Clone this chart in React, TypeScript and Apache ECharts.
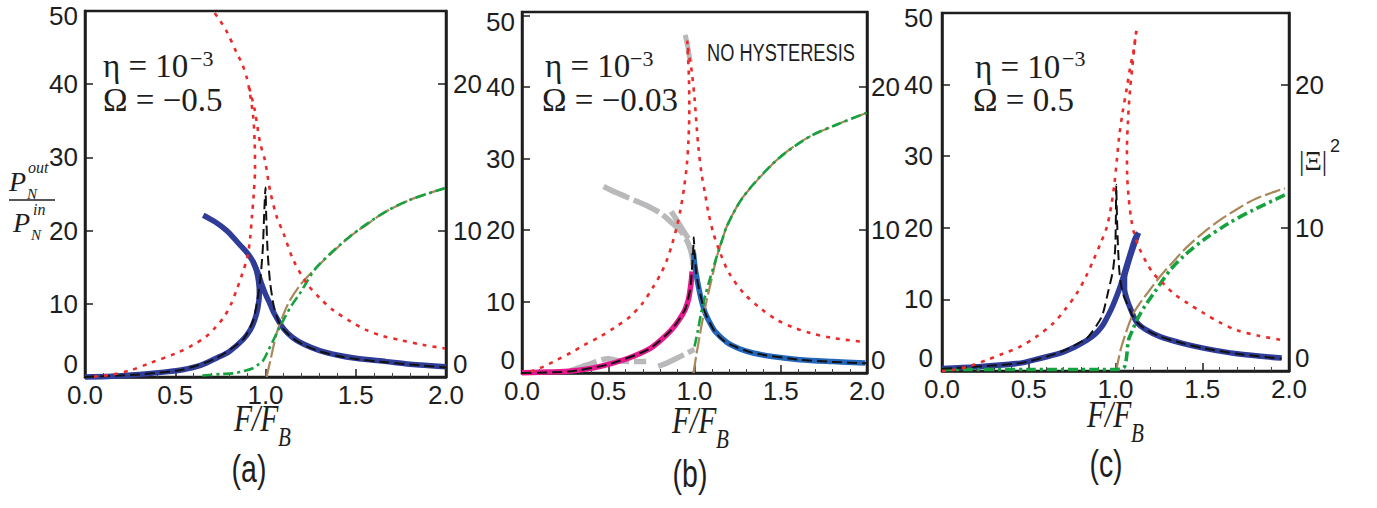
import React, { useEffect, useRef } from "react";
import * as echarts from "echarts";

type Pts = [number, number][];

// ---------- tick labels ----------
const xTickLabels = ["0.0", "0.5", "1.0", "1.5", "2.0"];
const leftTickValues = [0, 10, 20, 30, 40, 50];
const rightTickValues = [0, 10, 20];

// ---------- panel (a)  Omega = -0.5 ----------
const aBlueLower: Pts = [[0,0],[0.15,0.1],[0.3,0.35],[0.45,0.7],[0.54,1.0],[0.64,1.6],[0.73,2.6],[0.8,3.5],[0.875,5.1],[0.915,6.4],[0.94,7.8],[0.958,9.5],[0.966,11.4],[0.962,13.0],[0.95,14.5],[0.93,15.8],[0.9,16.9],[0.86,18.0],[0.82,19.1],[0.785,20.0],[0.72,21.2],[0.655,22.1]];
const aBlueUpper: Pts = [[0.93,15.8],[0.955,14.4],[0.98,12.6],[1.0,11.3],[1.025,10.0],[1.05,8.6],[1.1,6.6],[1.15,5.4],[1.21,4.5],[1.3,3.6],[1.395,3.0],[1.5,2.55],[1.67,2.1],[1.8,1.75],[2.0,1.4]];
const aBlack: Pts = [[0,0],[0.3,0.35],[0.54,1.0],[0.73,2.6],[0.875,5.1],[0.93,7.6],[0.955,10.5],[0.972,13.5],[0.985,17.5],[0.993,22.5],[1.0,25.9],[1.004,22],[1.012,17],[1.025,13],[1.045,9.8],[1.07,7.7],[1.1,6.5],[1.15,5.3],[1.21,4.4],[1.3,3.5],[1.395,2.9],[1.5,2.45],[1.67,2.0],[1.8,1.7],[2.0,1.3]];
const aRedLeft: Pts = [[0.05,0.05],[0.14,0.3],[0.25,0.9],[0.36,1.9],[0.51,3.3],[0.6,4.4],[0.67,5.5],[0.72,6.7],[0.77,8.2],[0.81,10],[0.84,11.9],[0.87,14],[0.9,16.4],[0.915,19],[0.925,22],[0.935,25],[0.942,28.5],[0.94,32],[0.932,35.5],[0.912,39],[0.895,41],[0.87,42.8],[0.84,44.3],[0.785,47.2],[0.745,48.8],[0.71,50]];
const aRedRight: Pts = [[0.91,39.5],[0.94,36.5],[0.97,32],[0.997,29.6],[1.025,25.5],[1.062,21.9],[1.1,19.6],[1.154,16],[1.228,12.8],[1.3,10.8],[1.376,9.1],[1.47,7.6],[1.56,6.4],[1.65,5.6],[1.745,5.05],[1.87,4.4],[1.994,3.9]];
const aGreen: Pts = [[0.65,0.1],[0.75,0.2],[0.82,0.25],[0.88,0.4],[0.93,0.6],[0.96,0.85],[0.988,1.15],[1.015,1.8],[1.043,2.5],[1.07,3.2],[1.1,3.9],[1.14,4.8],[1.19,5.7],[1.284,7.5],[1.468,9.6],[1.653,11.2],[1.8,12.1],[1.994,12.9]];
const aBrown: Pts = [[1.006,0],[1.03,1.3],[1.062,3],[1.1,4.3],[1.136,5.25],[1.2,6.4],[1.284,7.5],[1.37,8.5],[1.468,9.6],[1.56,10.4],[1.653,11.2],[1.8,12.1],[1.994,12.9]];

// ---------- panel (b)  Omega = -0.03 ----------
const bMagenta: Pts = [[0,0.05],[0.1,0.1],[0.27,0.25],[0.4,0.65],[0.5,1.2],[0.62,2.1],[0.733,3.3],[0.8,4.5],[0.869,6.1],[0.91,7.4],[0.946,8.9],[0.965,10.3],[0.975,11.7],[0.982,13],[0.986,14.2]];
const bBlue: Pts = [[0.994,16.8],[1.005,14.5],[1.023,12.1],[1.04,10.2],[1.062,8.4],[1.09,7.0],[1.12,5.8],[1.187,4.3],[1.26,3.4],[1.34,2.8],[1.45,2.3],[1.61,1.86],[1.8,1.6],[1.99,1.4]];
const bBlack: Pts = [[0,0],[0.27,0.2],[0.5,1.2],[0.733,3.3],[0.869,6.1],[0.946,8.9],[0.975,11.7],[0.985,14.5],[0.992,17],[0.996,19],[1.0,17],[1.01,14],[1.023,12.1],[1.062,8.4],[1.12,5.7],[1.187,4.2],[1.34,2.8],[1.61,1.86],[1.8,1.55],[2.0,1.35]];
const bGreyUpper: Pts = [[0.473,26.1],[0.55,25.2],[0.647,24.2],[0.733,23.3],[0.8,22.4],[0.869,21],[0.917,19.9],[0.95,18.8],[0.975,17.4],[0.988,16],[0.994,14.3]];
const bGreyUpper2: Pts = [[0.865,22.6],[0.9,21.3],[0.935,19.9],[0.965,18.8]];
const bGreyTop: Pts = [[0.946,47.3],[0.962,45.5],[0.975,43.5]];
const bGreyLow1: Pts = [[0.28,0.3],[0.35,0.9],[0.42,1.5],[0.5,2.0],[0.55,1.75],[0.63,1.6],[0.72,1.6]];
const bGreyLow2: Pts = [[0.79,0.93],[0.84,1.4],[0.9,2.1],[0.95,2.7],[1.0,3.3]];
const bRedLeft: Pts = [[0.05,0.2],[0.125,0.9],[0.2,1.8],[0.28,2.8],[0.36,3.9],[0.453,5.1],[0.54,6.4],[0.627,7.9],[0.7,9.8],[0.762,12.1],[0.805,13.9],[0.84,15.8],[0.87,18],[0.898,20.5],[0.92,23],[0.94,26],[0.955,29],[0.965,32.5],[0.97,37],[0.968,41],[0.962,44.5],[0.958,46.5]];
const bRedRight: Pts = [[0.962,45.5],[0.975,43.5],[0.985,42],[1.0,38.5],[1.014,34],[1.023,31.5],[1.04,28],[1.062,25],[1.08,22.5],[1.11,19.5],[1.149,16.8],[1.2,14],[1.284,11.2],[1.38,9.1],[1.477,7.45],[1.57,6.4],[1.67,5.6],[1.8,4.9],[1.96,4.4]];
const bBrown: Pts = [[0.994,0],[1.01,1.2],[1.033,2.8],[1.05,3.9],[1.072,5.15],[1.1,6.6],[1.13,8.15],[1.16,9.3],[1.187,10.25],[1.23,11.3],[1.284,12.35],[1.38,13.7],[1.477,14.9],[1.57,15.8],[1.67,16.55],[1.83,17.4],[1.998,18.2]];
const bGreen: Pts = [[1.0,1.85],[1.02,3.0],[1.04,4.3],[1.062,5.4],[1.09,6.6],[1.12,7.8],[1.16,9.3],[1.187,10.25],[1.284,12.35],[1.477,14.9],[1.67,16.55],[1.83,17.4],[1.998,18.2]];

// ---------- panel (c)  Omega = 0.5 ----------
const cBlueLower: Pts = [[0,0.35],[0.2,0.6],[0.45,1.1],[0.537,1.6],[0.681,2.5],[0.768,3.4],[0.835,4.3],[0.88,5.1],[0.921,6.2],[0.95,7.4],[0.975,8.6],[0.998,9.9],[1.03,12.0],[1.056,14.1],[1.085,16.4],[1.113,18.5],[1.132,19.3]];
const cBlueUpper: Pts = [[1.132,19.3],[1.11,17.8],[1.088,16.2],[1.068,14.6],[1.052,13.0],[1.052,11.5],[1.065,10.1],[1.088,8.6],[1.123,6.8],[1.18,5.7],[1.257,4.8],[1.38,3.9],[1.507,3.2],[1.7,2.4],[1.958,1.8]];
const cBlack: Pts = [[0,0.3],[0.45,1.1],[0.68,2.6],[0.835,4.6],[0.921,7.6],[0.96,11.3],[0.985,14],[0.998,17],[1.002,21],[1.004,26],[1.009,21],[1.015,17],[1.022,14],[1.032,12],[1.05,10.3],[1.075,9.0],[1.1,7.6],[1.123,6.8],[1.18,5.7],[1.257,4.8],[1.38,3.9],[1.507,3.2],[1.7,2.4],[1.958,1.7]];
const cRedLeft: Pts = [[0,0],[0.067,0.15],[0.16,0.7],[0.259,1.55],[0.35,2.4],[0.451,3.4],[0.55,4.9],[0.643,6.7],[0.71,8.6],[0.777,10.85],[0.83,13.2],[0.873,15.5],[0.915,17.9],[0.95,20.1],[0.975,23],[0.993,26],[1.008,29.5],[1.02,32.5],[1.04,36],[1.065,39.5],[1.085,42.5],[1.103,44.6],[1.12,47.5]];
const cRedRight: Pts = [[1.12,47.5],[1.11,45.5],[1.097,42.5],[1.084,39.4],[1.072,35],[1.066,31],[1.067,27.5],[1.075,24.5],[1.09,21.3],[1.11,19],[1.142,16.9],[1.18,15.1],[1.219,13.6],[1.28,12.1],[1.334,10.85],[1.42,9.4],[1.507,8.1],[1.6,6.8],[1.699,5.7],[1.83,4.9],[1.967,4.3]];
const cBrown: Pts = [[1.004,0],[1.03,1.5],[1.065,2.85],[1.1,3.95],[1.142,4.75],[1.2,5.7],[1.257,6.6],[1.33,7.6],[1.411,8.65],[1.5,9.6],[1.603,10.55],[1.7,11.3],[1.795,11.95],[1.9,12.45],[1.977,12.75]];
const cGreen: Pts = [[0,0.1],[0.5,0.1],[0.9,0.1],[1.02,0.12],[1.045,0.2],[1.056,0.4],[1.065,1.1],[1.075,2.15],[1.1,2.9],[1.123,3.55],[1.17,4.55],[1.219,5.4],[1.315,7.05],[1.4,8.1],[1.507,9.15],[1.65,10.3],[1.795,11.25],[1.977,12.3]];

// ---------- styling ----------
const SANS = '"Liberation Sans", Arial, sans-serif';
const SERIF = '"Liberation Serif", "Times New Roman", serif';
const INK = "#1e1e1e";
const NAVY = "#2f3c98";
const STEEL = "#2366b9";
const MAGENTA = "#e3198c";
const GREY = "#b9b9bb";
const RED = "#ec2a2a";
const GREEN = "#16a23e";
const BROWN = "#a9885c";
const TICK_FONT = 26;

function line(data: Pts, axis: number, yAxis: number, color: string, width: number, type: any, z: number, smooth = 0.3) {
  return {
    type: "line",
    data,
    xAxisIndex: axis,
    yAxisIndex: yAxis,
    symbol: "none",
    showSymbol: false,
    smooth,
    clip: false,
    silent: true,
    z,
    lineStyle: { color, width, type, cap: "butt", join: "round" },
  };
}

const dotted = [4, 6];
const blackDash = [10, 5];
const brownDash = [16, 4];
const greenDashDot = [10, 4, 3, 4];
const greyDash = [28, 5];

function xAxis(gridIndex: number) {
  return {
    type: "value",
    gridIndex,
    min: 0,
    max: 2,
    interval: 0.5,
    axisLine: { show: true, lineStyle: { color: INK, width: 2.5 } },
    axisTick: { show: true, inside: true, length: 8, lineStyle: { color: INK, width: 1.5 } },
    minorTick: { show: true, splitNumber: 5, length: 4, lineStyle: { color: "#444", width: 1 } },
    splitLine: { show: false },
    axisLabel: {
      fontFamily: SANS,
      fontSize: TICK_FONT,
      color: INK,
      margin: 5,
      formatter: (v: number) => xTickLabels[Math.round(v / 0.5)] ?? "",
    },
  };
}

function yAxis(gridIndex: number, position: string, max: number, labels: number[], margin: number, topPad: number) {
  const base = { fontFamily: SANS, fontSize: TICK_FONT, color: INK };
  return {
    type: "value",
    gridIndex,
    position,
    min: 0,
    max,
    interval: 10,
    axisLine: { show: true, lineStyle: { color: INK, width: 2.5 } },
    axisTick: { show: true, inside: true, length: 8, lineStyle: { color: INK, width: 1.5 } },
    splitLine: { show: false },
    axisLabel: {
      ...base,
      margin,
      verticalAlignMinLabel: "bottom",
      formatter: (v: number) => {
        if (labels.indexOf(v) < 0) return "";
        if (v === 50) return "{t|50}";
        return String(v);
      },
      rich: {
        t: { ...base, padding: [topPad, 0, 0, 0] },
      },
    },
  };
}

function txt(text: string, x: number, y: number, font: string, align = "left", scaleX = 1) {
  return {
    type: "text",
    x,
    y,
    scaleX,
    z: 100,
    silent: true,
    style: { text, font, fill: INK, textAlign: align, align, textVerticalAlign: "middle", verticalAlign: "middle" },
  };
}

export default function App() {
  const ref = useRef<HTMLDivElement>(null);
  useEffect(() => {
    document.body.style.margin = "0";
    if (!ref.current) return;
    const chart = echarts.init(ref.current, undefined, { renderer: "svg" });
    const gridBase = { show: true, borderColor: INK, borderWidth: 2.5, backgroundColor: "transparent", containLabel: false };
    const eta = `33px ${SERIF}`;
    const sup = `22px ${SERIF}`;
    const option: any = {
      animation: false,
      backgroundColor: "#ffffff",
      grid: [
        { ...gridBase, left: 85, top: 11, width: 361, height: 366 },
        { ...gridBase, left: 522, top: 12, width: 345, height: 361 },
        { ...gridBase, left: 942, top: 13, width: 347, height: 358 },
      ],
      xAxis: [xAxis(0), xAxis(1), xAxis(2)],
      yAxis: [
        yAxis(0, "left", 50, leftTickValues, 7, 10),
        yAxis(0, "right", 25, rightTickValues, 7, 0),
        yAxis(1, "left", 50.5, leftTickValues, 7, 12),
        yAxis(1, "right", 25.25, rightTickValues, 4, 0),
        yAxis(2, "left", 50, leftTickValues, 9, 10),
        yAxis(2, "right", 25, rightTickValues, 6, 0),
      ],
      series: [
        // (a)
        line(aBlueLower, 0, 0, NAVY, 5.5, "solid", 2),
        line(aBlueUpper, 0, 0, NAVY, 5.5, "solid", 2),
        line(aBrown, 0, 1, BROWN, 2.2, brownDash, 3),
        line(aGreen, 0, 1, GREEN, 2.6, greenDashDot, 4),
        line(aBlack, 0, 0, "#111", 2, blackDash, 5, 0.2),
        line(aRedLeft, 0, 0, RED, 2.6, dotted, 6),
        line(aRedRight, 0, 0, RED, 2.6, dotted, 6),
        // (b)
        line(bGreyUpper, 1, 2, GREY, 5.5, greyDash, 1),
        line(bGreyUpper2, 1, 2, GREY, 5.5, "solid", 1),
        line(bGreyTop, 1, 2, GREY, 5, "solid", 1),
        line(bGreyLow1, 1, 2, GREY, 5.5, greyDash, 1),
        line(bGreyLow2, 1, 2, GREY, 5.5, greyDash, 1),
        line(bMagenta, 1, 2, MAGENTA, 5.5, "solid", 2),
        line(bBlue, 1, 2, STEEL, 5.5, "solid", 2),
        line(bBrown, 1, 3, BROWN, 2.2, brownDash, 3),
        line(bGreen, 1, 3, GREEN, 2.6, greenDashDot, 4),
        line(bBlack, 1, 2, "#111", 2, blackDash, 5, 0.2),
        line(bRedLeft, 1, 2, RED, 2.6, dotted, 6),
        line(bRedRight, 1, 2, RED, 2.6, dotted, 6),
        // (c)
        line(cBlueLower, 2, 4, NAVY, 5.5, "solid", 2),
        line(cBlueUpper, 2, 4, NAVY, 5.5, "solid", 2),
        line(cBrown, 2, 5, BROWN, 2.2, brownDash, 3),
        line(cGreen, 2, 5, GREEN, 3.6, greenDashDot, 4),
        line(cBlack, 2, 4, "#111", 2, blackDash, 5, 0.2),
        line(cRedLeft, 2, 4, RED, 2.6, dotted, 6),
        line(cRedRight, 2, 4, RED, 2.6, dotted, 6),
      ],
      graphic: [
        // annotations (a)
        txt("η = 10", 103, 66, eta),
        txt("−3", 190, 58, sup),
        txt("Ω = −0.5", 103, 100, eta),
        // (b)
        txt("η = 10", 545, 66, eta),
        txt("−3", 630, 58, sup),
        txt("Ω = −0.03", 542, 100, eta),
        txt("NO HYSTERESIS", 707, 53, `24px ${SANS}`, "left", 0.76),
        // (c)
        txt("η = 10", 975, 67, eta),
        txt("−3", 1062, 58, sup),
        txt("Ω = 0.5", 973, 100, eta),
        // x axis names
        txt("F/F", 234, 418, `italic 38px ${SERIF}`, "left", 0.78),
        txt("B", 278, 437, `italic 27px ${SERIF}`, "left", 0.78),
        txt("F/F", 672, 420, `italic 38px ${SERIF}`, "left", 0.78),
        txt("B", 716, 439, `italic 27px ${SERIF}`, "left", 0.78),
        txt("F/F", 1087, 414, `italic 38px ${SERIF}`, "left", 0.78),
        txt("B", 1131, 433, `italic 27px ${SERIF}`, "left", 0.78),
        // panel letters
        txt("(a)", 249, 469, `38px ${SANS}`, "center", 0.75),
        txt("(b)", 690, 474, `38px ${SANS}`, "center", 0.75),
        txt("(c)", 1106, 464, `38px ${SANS}`, "center", 0.75),
        // left axis title: P_N^out / P_N^in
        txt("P", 9, 181, `italic 28px ${SERIF}`),
        txt("out", 28, 167, `italic 16px ${SERIF}`),
        txt("N", 27, 194, `italic 15px ${SERIF}`),
        { type: "line", silent: true, z: 100, shape: { x1: 9, y1: 200, x2: 55, y2: 200 }, style: { stroke: INK, lineWidth: 1.6 } },
        txt("P", 13, 222, `italic 28px ${SERIF}`),
        txt("in", 33, 209, `italic 16px ${SERIF}`),
        txt("N", 31, 235, `italic 15px ${SERIF}`),
        // right axis title |Ξ|^2
        txt("|Ξ|", 1299, 161, `27px ${SERIF}`),
        txt("2", 1330, 146, `18px ${SANS}`),
      ],
    };
    chart.setOption(option);
    return () => chart.dispose();
  }, []);
  return <div ref={ref} style={{ width: 1377, height: 508 }} />;
}
